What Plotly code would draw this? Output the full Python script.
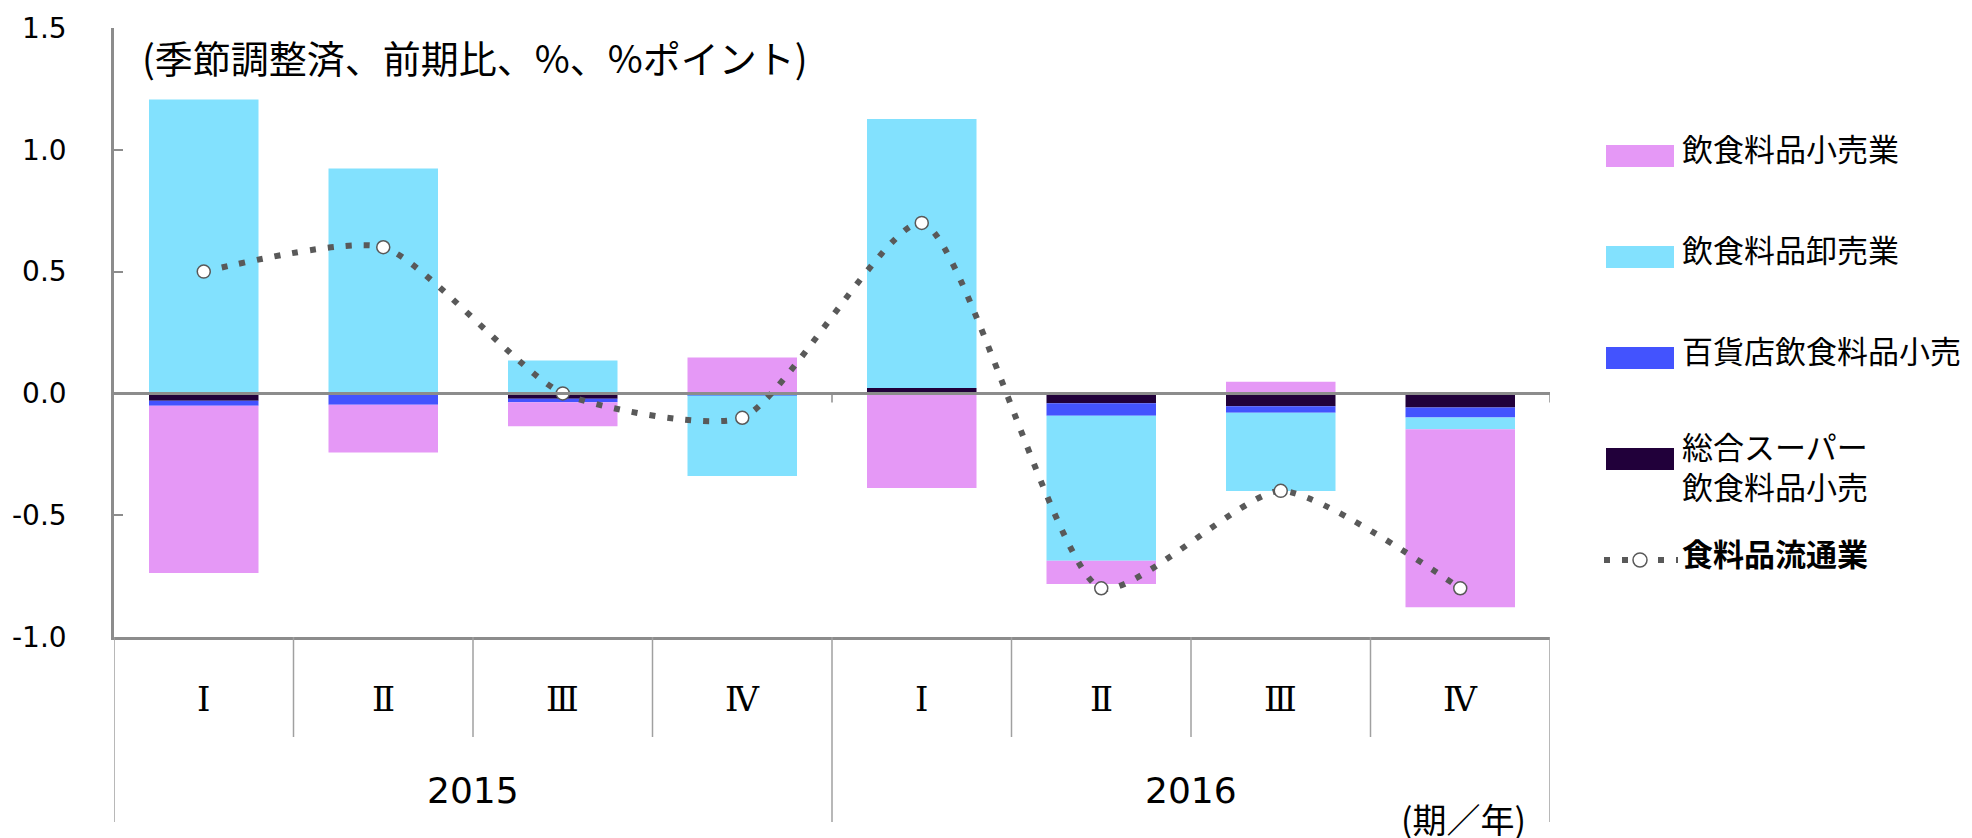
import plotly.graph_objects as go

# data
years = ["2015", "2016"]
quarters = ["Ⅰ", "Ⅱ", "Ⅲ", "Ⅳ"]
categories = [f"{y}年{q}" for y in years for q in quarters]
quarter_labels = [q for y in years for q in quarters]

retail = [-0.686, -0.196, -0.099, 0.147, -0.388, -0.095, 0.048, -0.731]      # 飲食料品小売業
wholesale = [1.206, 0.923, 0.135, -0.330, 1.104, -0.595, -0.322, -0.048]     # 飲食料品卸売業
dept_store = [-0.021, -0.047, -0.014, -0.003, 0.0, -0.052, -0.026, -0.041]   # 百貨店飲食料品小売
gms = [-0.030, 0.0, -0.022, -0.006, 0.022, -0.040, -0.053, -0.058]          # 総合スーパー飲食料品小売
total = [0.50, 0.60, 0.00, -0.10, 0.70, -0.80, -0.40, -0.80]                # 食料品流通業

y_tick_vals = [1.5, 1.0, 0.5, 0.0, -0.5, -1.0]
y_tick_text = ["1.5", "1.0", "0.5", "0.0", "-0.5", "-1.0"]

names = ["飲食料品小売業", "飲食料品卸売業", "百貨店飲食料品小売", "総合スーパー<br>飲食料品小売", "<b>食料品流通業</b>"]
colors = ["#E598F6", "#82E1FE", "#4353FE", "#21003A"]

AX = "#8C8C8C"
GRAY = "#595959"
JP = "Noto Sans CJK JP"

# page geometry (pixels) used for placing notes and the hand-drawn legend
L, R, T, B = 114, 422, 28, 201
W, H = 1972, 838
PW, PH = W - L - R, H - T - B


def px_x(p):
    return (p - L) / PW


def px_y(p):
    return (H - B - p) / PH


fig = go.Figure()

# stack order from zero outward: GMS, dept store, wholesale, retail
for vals, color, name in [(gms, colors[3], names[3]), (dept_store, colors[2], names[2]),
                          (wholesale, colors[1], names[1]), (retail, colors[0], names[0])]:
    fig.add_trace(go.Bar(x=categories, y=vals, name=name,
                         marker=dict(color=color, line_width=0)))

fig.add_trace(go.Scatter(
    x=categories, y=total, name=names[4], mode="lines+markers",
    line=dict(color=GRAY, width=6, dash="6px,12px", shape="spline", smoothing=0.6),
    marker=dict(size=13, color="white", line=dict(color=GRAY, width=1.5)),
))

shapes = []
annotations = []

# zero line over the bars
shapes.append(dict(type="line", xref="paper", yref="y", x0=0, x1=1, y0=0, y1=0,
                   line=dict(color=AX, width=3), layer="above"))

# category separators below the axis
n = len(categories)
for i in range(n + 1):
    xpos = i - 0.5
    long_line = i % len(quarters) == 0
    shapes.append(dict(type="line", xref="x", yref="paper", x0=xpos, x1=xpos,
                       y0=0, y1=px_y(822 if long_line else 737),
                       line=dict(color="#A0A0A0", width=1.5)))
    if long_line and i > 0:
        shapes.append(dict(type="line", xref="x", yref="y", x0=xpos, x1=xpos,
                           ysizemode="pixel", yanchor=0, y0=0, y1=-9,
                           line=dict(color=AX, width=1.5)))

# quarter labels and year labels
for cat, q in zip(categories, quarter_labels):
    annotations.append(dict(x=cat, y=px_y(699), xref="x", yref="paper", text=q,
                            showarrow=False, yanchor="middle",
                            font=dict(family="DejaVu Serif, Noto Sans CJK JP", size=34,
                                      color="black")))
for i, yr in enumerate(years):
    annotations.append(dict(x=i * len(quarters) + (len(quarters) - 1) / 2, y=px_y(790),
                            xref="x", yref="paper", text=yr, showarrow=False,
                            yanchor="middle",
                            font=dict(family="DejaVu Sans", size=36, color="black")))

annotations.append(dict(x=px_x(1528), y=px_y(818), xref="paper", yref="paper",
                        text="(期／年)", showarrow=False, xanchor="right", yanchor="middle",
                        font=dict(family=JP, size=34, color="black")))
annotations.append(dict(x=px_x(140), y=px_y(56), xref="paper", yref="paper",
                        text="(季節調整済、前期比、%、%ポイント)", showarrow=False,
                        xanchor="left", yanchor="middle",
                        font=dict(family=JP, size=38, color="black")))

# legend drawn by hand to match the wide swatches
swatch_y = [156, 257, 358, 459]
text_y = [147, 248, 349, 465, 552]
for k in range(4):
    cy = swatch_y[k]
    shapes.append(dict(type="rect", xref="paper", yref="paper",
                       x0=px_x(1606), x1=px_x(1674), y0=px_y(cy + 11), y1=px_y(cy - 11),
                       fillcolor=colors[k], line_width=0))
    annotations.append(dict(x=px_x(1680), y=px_y(text_y[k]), xref="paper", yref="paper",
                            text=names[k], showarrow=False, xanchor="left", yanchor="middle",
                            align="left", font=dict(family=JP, size=31, color="black")))

shapes.append(dict(type="line", xref="paper", yref="paper",
                   x0=px_x(1604), x1=px_x(1678), y0=px_y(560), y1=px_y(560),
                   line=dict(color=GRAY, width=6, dash="6px,12px")))
shapes.append(dict(type="circle", xref="paper", yref="paper",
                   xsizemode="pixel", ysizemode="pixel",
                   xanchor=px_x(1640), yanchor=px_y(560), x0=-7, x1=7, y0=-7, y1=7,
                   fillcolor="white", line=dict(color=GRAY, width=1.5)))
annotations.append(dict(x=px_x(1680), y=px_y(text_y[4]), xref="paper", yref="paper",
                        text=names[4], showarrow=False, xanchor="left", yanchor="middle",
                        font=dict(family=JP, size=31, color="black")))

fig.update_layout(
    width=W, height=H,
    margin=dict(l=L, r=R, t=T, b=B, pad=0),
    barmode="relative", bargap=0.39,
    showlegend=False,
    plot_bgcolor="white", paper_bgcolor="white",
    font=dict(family="DejaVu Sans, Noto Sans CJK JP", color="black"),
    xaxis=dict(type="category", range=[-0.5, n - 0.5], showticklabels=False,
               showline=True, linecolor=AX, linewidth=2.5, showgrid=False,
               zeroline=False, ticks="", automargin=False),
    yaxis=dict(range=[-1.0, 1.5], tickvals=y_tick_vals, ticktext=y_tick_text,
               showline=True, linecolor=AX, linewidth=2.5, showgrid=False, zeroline=False,
               ticks="inside", ticklen=9, tickwidth=2, tickcolor=AX,
               tickfont=dict(family="DejaVu Sans", size=28, color="black"),
               ticklabelstandoff=39, automargin=False),
    shapes=shapes,
    annotations=annotations,
)

fig.write_html("out.html", config={"displayModeBar": False},
               post_script="document.body.style.margin='0';document.body.style.overflow='hidden';")
